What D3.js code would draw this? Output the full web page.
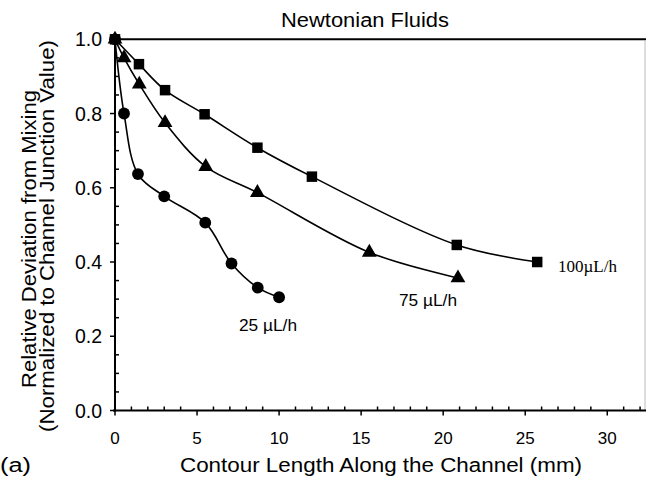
<!doctype html>
<html>
<head>
<style>
  body { margin: 0; background: #fff; }
  text { font-family: "Liberation Sans", Arial, sans-serif; fill: #000; }
</style>
<script src="https://d3js.org/d3.v7.min.js"></script>
</head>
<body>
<svg width="646" height="478"></svg>
<script>
// data
var xs25  = [0, 0.55, 1.4, 3.0, 5.5, 7.1, 8.7, 10.0];
var ys25  = [1.0, 0.80, 0.637, 0.577, 0.506, 0.396, 0.331, 0.305];
var xs75  = [0, 0.55, 1.48, 3.05, 5.53, 8.68, 15.5, 20.9];
var ys75  = [1.0, 0.95, 0.879, 0.775, 0.657, 0.587, 0.426, 0.357];
var xs100 = [0, 1.46, 3.05, 5.46, 8.68, 12.0, 20.83, 25.73];
var ys100 = [1.0, 0.933, 0.863, 0.798, 0.708, 0.630, 0.446, 0.40];
var xTicks = [0, 5, 10, 15, 20, 25, 30];
var yTicks = [0.0, 0.2, 0.4, 0.6, 0.8, 1.0];

var svg = d3.select("svg");
var x = d3.scaleLinear().domain([0, 32.3]).range([115, 645]);
var y = d3.scaleLinear().domain([0, 1]).range([410.5, 39.3]);

// top border line at y = 1.0
svg.append("line").attr("x1", x(0)).attr("x2", 646)
   .attr("y1", y(1)).attr("y2", y(1))
   .attr("stroke", "#000").attr("stroke-width", 2);
// faint right border
svg.append("line").attr("x1", 645).attr("x2", 645)
   .attr("y1", y(1) + 1).attr("y2", y(0))
   .attr("stroke", "#bbb").attr("stroke-width", 1);

// x axis: major ticks outside, minor inside
var gx = svg.append("g").attr("transform", "translate(0," + y(0) + ")");
gx.append("line").attr("x1", x(0) - 2).attr("x2", 646).attr("stroke", "#000").attr("stroke-width", 2);
gx.selectAll(".minor").data(d3.range(1, 33).filter(function(d) { return d % 5 !== 0; }))
  .enter().append("line")
  .attr("x1", function(d) { return x(d); }).attr("x2", function(d) { return x(d); })
  .attr("y1", 0).attr("y2", -4).attr("stroke", "#000").attr("stroke-width", 1.5);
gx.selectAll(".major").data(xTicks).enter().append("line")
  .attr("x1", function(d) { return x(d); }).attr("x2", function(d) { return x(d); })
  .attr("y1", 0).attr("y2", 5).attr("stroke", "#000").attr("stroke-width", 1.5);
gx.selectAll("text").data(xTicks).enter().append("text")
  .attr("x", function(d) { return x(d); }).attr("y", 33)
  .attr("text-anchor", "middle").attr("font-size", 17)
  .text(function(d) { return d; });

// y axis: major ticks outside, minor inside
var gy = svg.append("g").attr("transform", "translate(" + x(0) + ",0)");
gy.append("line").attr("y1", y(0) + 1).attr("y2", y(1)).attr("stroke", "#000").attr("stroke-width", 2);
gy.selectAll(".minor").data(d3.range(1, 20).filter(function(d) { return d % 4 !== 0; }))
  .enter().append("line")
  .attr("y1", function(d) { return y(d * 0.05); }).attr("y2", function(d) { return y(d * 0.05); })
  .attr("x1", 0).attr("x2", 4).attr("stroke", "#000").attr("stroke-width", 1.5);
gy.selectAll(".major").data(yTicks).enter().append("line")
  .attr("y1", function(d) { return y(d); }).attr("y2", function(d) { return y(d); })
  .attr("x1", 0).attr("x2", -5).attr("stroke", "#000").attr("stroke-width", 1.5);
gy.selectAll("text").data(yTicks).enter().append("text")
  .attr("x", -13).attr("y", function(d) { return y(d) + 7; })
  .attr("text-anchor", "end").attr("font-size", 19.5)
  .text(function(d) { return d.toFixed(1); });

// curves
var line = d3.line().x(function(d) { return x(d[0]); }).y(function(d) { return y(d[1]); })
  .curve(d3.curveCatmullRom.alpha(0.5));
var series = [
  { xs: xs25, ys: ys25, sym: d3.symbolCircle, size: 110 },
  { xs: xs75, ys: ys75, sym: d3.symbolTriangle, size: 95 },
  { xs: xs100, ys: ys100, sym: d3.symbolSquare, size: 110 }
];
series.forEach(function(s) {
  var pts = s.xs.map(function(v, i) { return [v, s.ys[i]]; });
  svg.append("path").datum(pts).attr("d", line)
     .attr("fill", "none").attr("stroke", "#000").attr("stroke-width", 1.6);
  svg.selectAll(null).data(pts).enter().append("path")
     .attr("transform", function(d) { return "translate(" + x(d[0]) + "," + y(d[1]) + ")"; })
     .attr("d", d3.symbol().type(s.sym).size(s.size))
     .attr("fill", "#000");
});

// series labels
svg.append("text").attr("x", 239).attr("y", 331).attr("font-size", 16)
   .attr("textLength", 58).attr("lengthAdjust", "spacingAndGlyphs").text("25 \u00b5L/h");
svg.append("text").attr("x", 399).attr("y", 306).attr("font-size", 16)
   .attr("textLength", 58).attr("lengthAdjust", "spacingAndGlyphs").text("75 \u00b5L/h");
svg.append("text").attr("x", 558).attr("y", 272).attr("font-size", 17)
   .attr("textLength", 59).attr("lengthAdjust", "spacingAndGlyphs")
   .style("font-family", "'Liberation Serif', serif").text("100\u00b5L/h");

// titles
svg.append("text").attr("x", 281).attr("y", 27).attr("font-size", 19.5)
   .attr("textLength", 168).attr("lengthAdjust", "spacingAndGlyphs").text("Newtonian Fluids");
svg.append("text").attr("x", 180).attr("y", 472).attr("font-size", 20)
   .attr("textLength", 402).attr("lengthAdjust", "spacingAndGlyphs")
   .text("Contour Length Along the Channel (mm)");
svg.append("text").attr("x", 0).attr("y", 472).attr("font-size", 20)
   .attr("textLength", 31).attr("lengthAdjust", "spacingAndGlyphs").text("(a)");
svg.append("text").attr("transform", "translate(36,388) rotate(-90)")
   .attr("font-size", 20.5).attr("textLength", 298).attr("lengthAdjust", "spacingAndGlyphs")
   .text("Relative Deviation from Mixing");
svg.append("text").attr("transform", "translate(54,432) rotate(-90)")
   .attr("font-size", 20.5).attr("textLength", 392).attr("lengthAdjust", "spacingAndGlyphs")
   .text("(Normalized to Channel Junction Value)");
</script>
</body>
</html>
